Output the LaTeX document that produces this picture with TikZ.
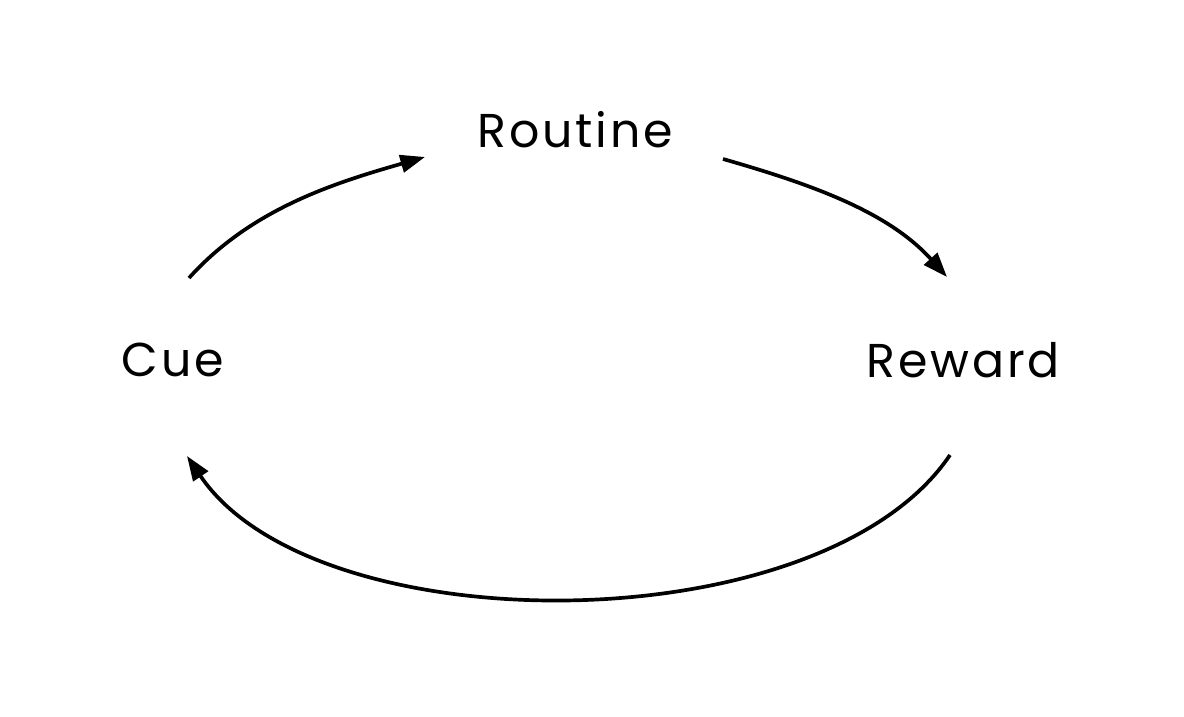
\documentclass[tikz,border=0pt]{standalone}
\usepackage{fontspec}
\setmainfont{Poppins}[LetterSpace=6]
\usetikzlibrary{arrows.meta}
\usetikzlibrary{calc}

\begin{document}
\begin{tikzpicture}
    \useasboundingbox (0,0) rectangle (11.84,7.16);
    \begin{scope}[line width=1.05pt,font=\fontsize{13.5}{16}\selectfont,>={Triangle[length=7pt,width=5pt]}]
    % Labels:
    % The three steps of the loop are plain text nodes:
    \node (routine) at (5.75,5.86) {Routine};
    \node (cue)     at (1.73,3.56) {Cue};
    \node (reward)  at (9.63,3.56) {Reward};

    % Ends of the arrows, a little away from the labels:
    \coordinate (cueout)     at ($(cue)+(0.16,0.82)$);
    \coordinate (routinein)  at ($(routine)+(-1.50,-0.27)$);
    \coordinate (routineout) at ($(routine)+(1.48,-0.29)$);
    \coordinate (rewardin)   at ($(reward)+(-0.16,0.83)$);
    \coordinate (rewardout)  at ($(reward)+(-0.13,-0.95)$);
    \coordinate (cuein)      at ($(cue)+(0.14,-0.96)$);

    % Draw the loop
    \draw [->] (cueout) to [out=48,in=196,looseness=0.9] (routinein);
    \draw [->] (routineout) to [out=-16,in=132,looseness=0.9] (rewardin);
    \draw [->] (rewardout) to [out=-124,in=-56,looseness=0.77] (cuein);
    \end{scope}
\end{tikzpicture}
\end{document}
